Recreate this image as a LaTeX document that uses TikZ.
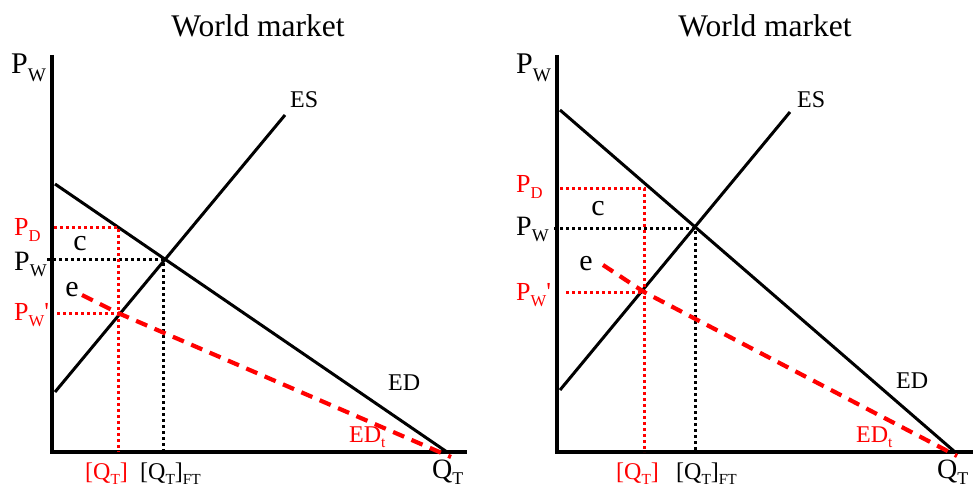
\documentclass[tikz,border=0pt]{standalone}
\usepackage{graphicx}
\usepackage{fontspec}
\setmainfont{Liberation Serif}[Ligatures=TeXOff]
\newcommand\lsb[1]{\raisebox{-0.24em}{\scalebox{0.64}{#1}}}
\newcommand\fsz[1]{\fontsize{#1}{#1}\selectfont}
\begin{document}
\begin{tikzpicture}[x=1pt,y=-1pt,
  axisline/.style={line width=4pt,black},
  curveline/.style={line width=3pt,black},
  dotblack/.style={line width=3pt,black,dash pattern=on 3pt off 3pt},
  dotred/.style={line width=3pt,red,dash pattern=on 3pt off 3pt},
  dashred/.style={line width=4.2pt,red,dash pattern=on 12pt off 8pt},
  lbl/.style={inner sep=0pt,anchor=base west},
  lblc/.style={inner sep=0pt,anchor=base},
  redlbl/.style={lbl,text=red}]
\useasboundingbox (0,0) rectangle (973,489);
% ---------------- left panel ----------------
\node[lblc,font=\fsz{31.5}] (t1) at (258,37) {World market};
\coordinate (lo1) at (52,452);
\coordinate (ytop1) at (52,55);
\coordinate (xend1) at (467,452);
\draw[axisline] (ytop1) -- (lo1) -- (xend1);
\coordinate (es1a) at (55,392);
\coordinate (es1b) at (285,115);
\coordinate (ed1a) at (55,184);
\coordinate (ed1b) at (447,452);
\draw[curveline] (es1a) -- (es1b);
\draw[curveline] (ed1a) -- (ed1b);
\coordinate (x1) at (163,259);
\coordinate (pw1s) at (47,259);
\coordinate (x1b) at (163,452);
\draw[dotblack] (pw1s) -- (x1) -- (x1b);
\coordinate (pd1s) at (54,227);
\coordinate (pd1c) at (118,227);
\coordinate (pd1b) at (118,452);
\draw[dotred] (pd1s) -- (pd1c) -- (pd1b);
\coordinate (pwp1s) at (57,313);
\coordinate (pwp1c) at (118,313);
\draw[dotred] (pwp1s) -- (pwp1c);
\coordinate (edt1a) at (82,295);
\coordinate (edt1b) at (451,457);
\draw[dashred] (edt1a) -- (pwp1c) -- (edt1b);
\node[lbl,font=\fsz{30}] (pwax1) at (11,74) {P\lsb{W}};
\node[redlbl,font=\fsz{26}] (pd1) at (14,235) {P\lsb{D}};
\node[lbl,font=\fsz{28}] (pw1) at (14,270) {P\lsb{W}};
\node[redlbl,font=\fsz{26}] (pwp1) at (14,320) {P\lsb{W}'};
\node[lblc,font=\fsz{30}] (c1) at (80,250) {c};
\node[lblc,font=\fsz{30}] (e1) at (72,296) {e};
\node[lbl,font=\fsz{24}] (esl1) at (290,108) {ES};
\node[lbl,font=\fsz{24}] (edl1) at (388,390) {ED};
\node[redlbl,font=\fsz{24}] (edtl1) at (349,442) {ED\lsb{t}};
\node[lbl,font=\fsz{28}] (qt1) at (432,478) {Q\lsb{T}};
\node[redlbl,font=\fsz{24}] (qtr1) at (85,479) {[Q\lsb{T}]};
\node[lbl,font=\fsz{24}] (qft1) at (140,479) {[Q\lsb{T}]\lsb{FT}};
% ---------------- right panel ----------------
\node[lblc,font=\fsz{31.5}] (t2) at (765,37) {World market};
\coordinate (lo2) at (557,452);
\coordinate (ytop2) at (557,55);
\coordinate (xend2) at (973,452);
\draw[axisline] (ytop2) -- (lo2) -- (xend2);
\coordinate (es2a) at (560,390);
\coordinate (es2b) at (790,112);
\coordinate (ed2a) at (560,110);
\coordinate (ed2b) at (955,452);
\draw[curveline] (es2a) -- (es2b);
\draw[curveline] (ed2a) -- (ed2b);
\coordinate (x2) at (695,228);
\coordinate (pw2s) at (554,228);
\coordinate (x2b) at (695,452);
\draw[dotblack] (pw2s) -- (x2) -- (x2b);
\coordinate (pd2s) at (560,188);
\coordinate (pd2c) at (644,188);
\coordinate (pd2b) at (644,452);
\draw[dotred] (pd2s) -- (pd2c) -- (pd2b);
\coordinate (pwp2s) at (566,292);
\coordinate (pwp2c) at (644,292);
\draw[dotred] (pwp2s) -- (pwp2c);
\coordinate (edt2a) at (603,265);
\coordinate (edt2b) at (957,456);
\draw[dashred] (edt2a) -- (pwp2c) -- (edt2b);
\node[lbl,font=\fsz{30}] (pwax2) at (516,74) {P\lsb{W}};
\node[redlbl,font=\fsz{26}] (pd2) at (516,192) {P\lsb{D}};
\node[lbl,font=\fsz{28}] (pw2) at (516,235) {P\lsb{W}};
\node[redlbl,font=\fsz{26}] (pwp2) at (516,300) {P\lsb{W}'};
\node[lblc,font=\fsz{30}] (c2) at (598,215) {c};
\node[lblc,font=\fsz{30}] (e2) at (586,270) {e};
\node[lbl,font=\fsz{24}] (esl2) at (797,108) {ES};
\node[lbl,font=\fsz{24}] (edl2) at (896,388) {ED};
\node[redlbl,font=\fsz{24}] (edtl2) at (856,442) {ED\lsb{t}};
\node[lbl,font=\fsz{28}] (qt2) at (937,478) {Q\lsb{T}};
\node[redlbl,font=\fsz{24}] (qtr2) at (616,479) {[Q\lsb{T}]};
\node[lbl,font=\fsz{24}] (qft2) at (676,479) {[Q\lsb{T}]\lsb{FT}};
\end{tikzpicture}
\end{document}
